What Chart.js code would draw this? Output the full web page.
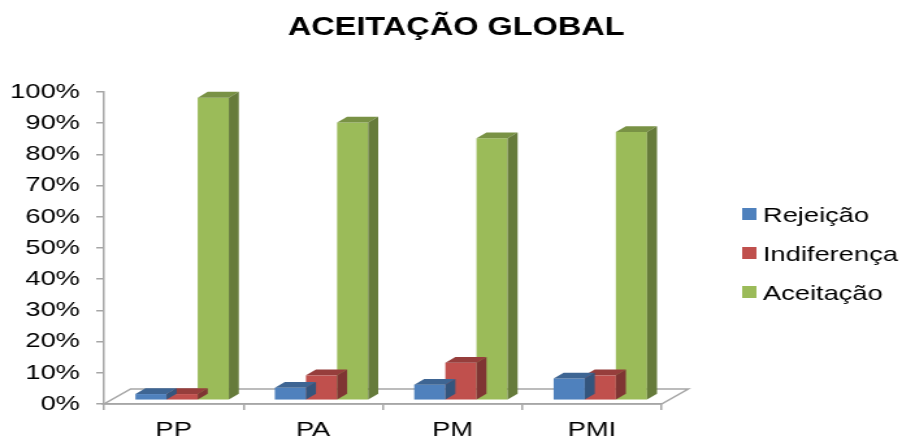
<!DOCTYPE html>
<html>
<head>
<meta charset="utf-8">
<script src="https://cdn.jsdelivr.net/npm/chart.js@4.4.1/dist/chart.umd.min.js"></script>
<style>
  html, body { margin: 0; padding: 0; background: #fff; overflow: hidden; width: 902px; height: 439px; }
  /* the chart is laid out at 694px and widened to the full 902px page */
  #wrap { position: absolute; left: 0; top: 0; width: 694px; height: 439px;
          transform: scaleX(1.29971); transform-origin: 0 0; }
</style>
</head>
<body>
<div id="wrap"><canvas id="c"></canvas></div>
<script>
const categories = ['PP', 'PA', 'PM', 'PMI'];
const rejeicao = [2, 4, 5, 7];
const indiferenca = [2, 8, 12, 8];
const aceitacao = [97, 89, 84, 86];
const seriesLabels = ['Rejeição', 'Indiferença', 'Aceitação'];
const seriesColors = ['#4F81BD', '#C0504D', '#9BBB59'];
const chartTitle = 'ACEITAÇÃO GLOBAL';

const FONT = '"Liberation Sans", Arial, sans-serif';
const AXIS = '#A6A6A6';
// floor depth, where the row of columns stands on it, and the depth of each column
const FLOOR_DX = 20.5, FLOOR_DY = -15;
const ROW_DX = 6.5, ROW_DY = -3.7;
const BAR_DX = 7.7, BAR_DY = -5.8;

function shade(hex, f) {
  const n = parseInt(hex.slice(1), 16);
  const r = Math.round(((n >> 16) & 255) * f);
  const g = Math.round(((n >> 8) & 255) * f);
  const b = Math.round((n & 255) * f);
  return `rgb(${r},${g},${b})`;
}

const columns3d = {
  id: 'columns3d',
  beforeDraw(chart) {
    const { ctx, chartArea: a } = chart;
    ctx.save();
    ctx.fillStyle = '#fff';
    ctx.fillRect(0, 0, chart.width, chart.height);
    // floor
    ctx.beginPath();
    ctx.moveTo(a.left, a.bottom);
    ctx.lineTo(a.right, a.bottom);
    ctx.lineTo(a.right + FLOOR_DX, a.bottom + FLOOR_DY);
    ctx.lineTo(a.left + FLOOR_DX, a.bottom + FLOOR_DY);
    ctx.closePath();
    ctx.strokeStyle = AXIS;
    ctx.lineWidth = 1.5;
    ctx.stroke();
    ctx.restore();
  },
  beforeDatasetDraw(chart) {
    chart.ctx.save();
    chart.ctx.translate(ROW_DX, ROW_DY);
  },
  afterDatasetDraw(chart, args) {
    const ctx = chart.ctx;
    const base = chart.data.datasets[args.index].backgroundColor;
    const topColor = shade(base, 0.78);
    const sideColor = shade(base, 0.66);
    args.meta.data.forEach(el => {
      const p = el.getProps(['x', 'y', 'base', 'width'], true);
      const l = p.x - p.width / 2, r = p.x + p.width / 2;
      const t = Math.min(p.y, p.base), b = Math.max(p.y, p.base);
      ctx.beginPath();
      ctx.moveTo(l, t);
      ctx.lineTo(r, t);
      ctx.lineTo(r + BAR_DX, t + BAR_DY);
      ctx.lineTo(l + BAR_DX, t + BAR_DY);
      ctx.closePath();
      ctx.fillStyle = topColor;
      ctx.fill();
      ctx.beginPath();
      ctx.moveTo(r, t);
      ctx.lineTo(r + BAR_DX, t + BAR_DY);
      ctx.lineTo(r + BAR_DX, b + BAR_DY);
      ctx.lineTo(r, b);
      ctx.closePath();
      ctx.fillStyle = sideColor;
      ctx.fill();
    });
    ctx.restore();
  },
  afterDraw(chart) {
    const ctx = chart.ctx;
    ctx.save();
    // title
    ctx.fillStyle = '#000';
    ctx.font = `bold 25px ${FONT}`;
    ctx.textAlign = 'center';
    ctx.textBaseline = 'alphabetic';
    ctx.fillText(chartTitle, 351, 35);
    // legend
    ctx.font = `21px ${FONT}`;
    ctx.textAlign = 'left';
    chart.data.datasets.forEach((ds, i) => {
      const cy = 214 + i * 39;
      ctx.fillStyle = ds.backgroundColor;
      ctx.fillRect(571, cy - 6, 11, 12);
      ctx.fillStyle = '#000';
      ctx.fillText(ds.label, 587, cy + 7.5);
    });
    ctx.restore();
  }
};

const seriesData = [rejeicao, indiferenca, aceitacao];

new Chart(document.getElementById('c'), {
  type: 'bar',
  data: {
    labels: categories,
    datasets: seriesData.map((d, i) => ({
      label: seriesLabels[i],
      data: d,
      backgroundColor: seriesColors[i],
      borderWidth: 0,
      categoryPercentage: 0.67,
      barPercentage: 1,
      clip: false
    }))
  },
  options: {
    responsive: true,
    maintainAspectRatio: false,
    animation: false,
    events: [],
    layout: { padding: { left: 0, top: 92, right: 185, bottom: 0 } },
    plugins: {
      legend: { display: false },
      title: { display: false },
      tooltip: { enabled: false }
    },
    scales: {
      x: {
        type: 'category',
        offset: true,
        grid: { offset: true, drawOnChartArea: false, drawTicks: true, tickLength: 6, color: AXIS, lineWidth: 1.5 },
        border: { display: true, color: AXIS, width: 1.5 },
        ticks: { color: '#000', font: { family: FONT, size: 21 }, padding: 8, maxRotation: 0, autoSkip: false },
        afterFit(s) { s.height = 35; }
      },
      y: {
        min: 0,
        max: 100,
        grid: { drawOnChartArea: false, drawTicks: true, tickLength: 6, color: AXIS, lineWidth: 1.5 },
        border: { display: true, color: AXIS, width: 1.5 },
        ticks: { stepSize: 10, color: '#000', font: { family: FONT, size: 21 }, padding: 12.5,
                 callback: v => v + '%' },
        afterFit(s) { s.width = 80; }
      }
    }
  },
  plugins: [columns3d]
});
</script>
</body>
</html>
